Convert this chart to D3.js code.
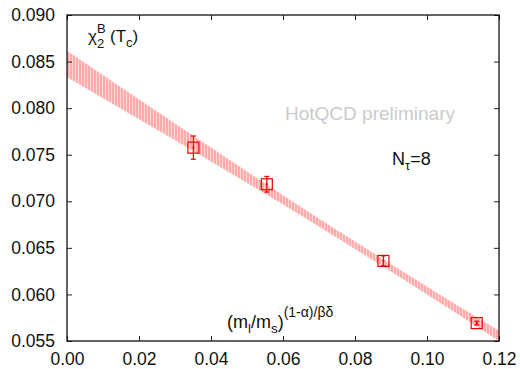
<!DOCTYPE html>
<html><head><meta charset="utf-8">
<script src="https://cdn.jsdelivr.net/npm/d3@7"></script>
<style>
html,body{margin:0;padding:0;background:#fff;}
svg{display:block;font-family:"Liberation Sans",Arial,Helvetica,sans-serif;}
</style></head>
<body>
<svg id="chart" width="520" height="369"></svg>
<script>
// Data
const pointsX = [0.0351, 0.0555, 0.0879, 0.1138];
const pointsY = [0.07576, 0.07183, 0.06360, 0.05692];
const pointsErr = [0.00125, 0.00084, 0.00054, 0.00020];
const bandX = [0.00, 0.03, 0.06, 0.09, 0.12];
const bandLow = [0.08332, 0.07655, 0.06965, 0.06245, 0.05500];
const bandHigh = [0.08617, 0.07835, 0.07065, 0.06325, 0.05610];
const xTicks = [0.00, 0.02, 0.04, 0.06, 0.08, 0.10, 0.12];
const yTicks = [0.055, 0.060, 0.065, 0.070, 0.075, 0.080, 0.085, 0.090];

const svg = d3.select("#chart");
const m = {left: 67, top: 15, right: 21, bottom: 28};
const W = 520 - m.left - m.right, H = 369 - m.top - m.bottom;
const x = d3.scaleLinear().domain([0, 0.12]).range([0, W]);
const y = d3.scaleLinear().domain([0.055, 0.090]).range([H, 0]);

const defs = svg.append("defs");
const pat = defs.append("pattern").attr("id","stripes").attr("patternUnits","userSpaceOnUse")
  .attr("width",3).attr("height",10);
pat.append("rect").attr("width",3).attr("height",10).attr("fill","#ffabab");
pat.append("rect").attr("x",2).attr("width",1).attr("height",10).attr("fill","#ffd6d6");
defs.append("clipPath").attr("id","clip").append("rect").attr("width",W).attr("height",H);

const g = svg.append("g").attr("transform",`translate(${m.left},${m.top})`);

// band
const bandData = bandX.map((v,i)=>({x:v, lo:bandLow[i], hi:bandHigh[i]}));
g.append("path").datum(bandData)
  .attr("clip-path","url(#clip)")
  .attr("fill","url(#stripes)")
  .attr("d", d3.area().x(d=>x(d.x)).y0(d=>y(d.lo)).y1(d=>y(d.hi)).curve(d3.curveMonotoneX));

// axes
const tickLen = 5;
const axL = g.append("g").call(d3.axisLeft(y).tickValues(yTicks).tickFormat(d3.format(".3f")).tickSize(-tickLen).tickPadding(12));
const axR = g.append("g").attr("transform",`translate(${W},0)`).call(d3.axisRight(y).tickValues(yTicks).tickFormat("").tickSize(-tickLen));
const axB = g.append("g").attr("transform",`translate(0,${H})`).call(d3.axisBottom(x).tickValues(xTicks).tickFormat(d3.format(".2f")).tickSize(-tickLen).tickPadding(11.5));
const axT = g.append("g").call(d3.axisTop(x).tickValues(xTicks).tickFormat("").tickSize(-tickLen));
[axL,axR,axB,axT].forEach(a=>{
  a.select(".domain").remove();
  a.selectAll(".tick line").attr("stroke","#222").attr("stroke-width",1);
  a.selectAll(".tick text").attr("fill","#111").style("font-size","17.5px").style("font-family","Liberation Sans, Arial, sans-serif");
});
axB.selectAll(".tick text").attr("dy","0.71em");

g.append("rect").attr("width",W).attr("height",H).attr("fill","none").attr("stroke","#111").attr("stroke-width",1.3);

// points
const pts = pointsX.map((v,i)=>({x:v,y:pointsY[i],e:pointsErr[i]}));
const pg = g.append("g").attr("stroke","#ee0000").attr("fill","none").attr("stroke-width",1.2);
pts.forEach(d=>{
  const cx = x(d.x), cy = y(d.y), y1 = y(d.y + d.e), y2 = y(d.y - d.e);
  pg.append("line").attr("x1",cx).attr("x2",cx).attr("y1",y1).attr("y2",y2);
  pg.append("line").attr("x1",cx-2.5).attr("x2",cx+2.5).attr("y1",y1).attr("y2",y1);
  pg.append("line").attr("x1",cx-2.5).attr("x2",cx+2.5).attr("y1",y2).attr("y2",y2);
  pg.append("rect").attr("x",cx-5.5).attr("y",cy-5.5).attr("width",11).attr("height",11);
  pg.append("rect").attr("x",cx-1).attr("y",cy-1).attr("width",2).attr("height",2).attr("fill","#ee0000").attr("stroke","none");
});

// labels
svg.append("text").attr("x",88).attr("y",42).style("font-size","17px").attr("fill","#111").text("χ");
svg.append("text").attr("x",97).attr("y",48).style("font-size","13px").attr("fill","#111").text("2");
svg.append("text").attr("x",97).attr("y",33).style("font-size","13px").attr("fill","#111").text("B");
const t1 = svg.append("text").attr("x",110).attr("y",42).style("font-size","17px").attr("fill","#111");
t1.append("tspan").text("(T");
t1.append("tspan").attr("dy",5).style("font-size","13px").text("c");
t1.append("tspan").attr("dy",-5).text(")");

svg.append("text").attr("x",285).attr("y",120).style("font-size","19px").attr("fill","#cbcbcb").text("HotQCD preliminary");

const t2 = svg.append("text").attr("x",392).attr("y",165).style("font-size","18px").attr("fill","#111");
t2.append("tspan").text("N");
t2.append("tspan").attr("dy",5).style("font-size","13px").text("τ");
t2.append("tspan").attr("dy",-5).text("=8");

const t3 = svg.append("text").attr("x",227).attr("y",328).style("font-size","18px").attr("fill","#111");
t3.append("tspan").text("(m");
t3.append("tspan").attr("dy",5).style("font-size","13px").text("l");
t3.append("tspan").attr("dy",-5).text("/m");
t3.append("tspan").attr("dy",5).style("font-size","13.5px").text("s");
t3.append("tspan").attr("dy",-5).text(")");
t3.append("tspan").attr("dy",-11).style("font-size","14px").text("(1-α)/βδ");
</script>
</body></html>
